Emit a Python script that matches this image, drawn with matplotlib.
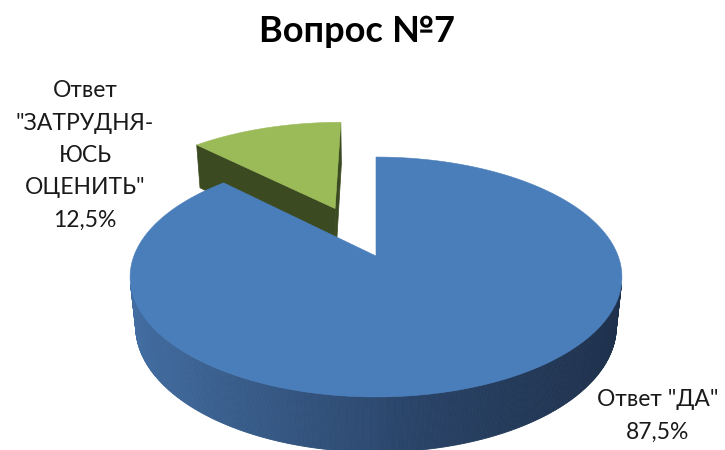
import numpy as np
import matplotlib
matplotlib.use('Agg')
import matplotlib.pyplot as plt
from matplotlib.patches import Polygon
import matplotlib.colors as mcolors

plt.rcParams['font.family'] = ['Lato', 'DejaVu Sans']

# ---- data ----
title = 'Вопрос №7'
categories = ['Ответ "ДА"', 'Ответ\n"ЗАТРУДНЯ-\nЮСЬ\nОЦЕНИТЬ"']
values = [87.5, 12.5]
top_colors = ['#4a7ebb', '#9bbb59']
cut_colors = ['#2c466c', '#3c4a22']
explode = [0.0, 0.476]
start_angle = 135.0

# ---- 3D projection of a pie (perspective camera) ----
phi = np.radians(28.7)
S, C = np.sin(phi), np.cos(phi)
D, F = 5.01, 1213.0
CX, CY = 376.0, 256.0
H = 0.235


def proj(X, Y, Z):
    X, Y, Z = np.asarray(X, float), np.asarray(Y, float), np.asarray(Z, float)
    u = X
    v = Y * S + Z * C
    w = Y * C - Z * S
    return CX + F * u / (D + w), CY - F * v / (D + w)


fig = plt.figure(figsize=(7.25, 4.5), dpi=100)
ax = fig.add_axes([0, 0, 1, 1])
ax.set_xlim(0, 725)
ax.set_ylim(450, 0)
ax.axis('off')

total = sum(values)
spans = []
a = start_angle
for v in values:
    da = 360.0 * v / total
    spans.append((a, a + da))
    a += da


def slice_geom(i):
    a0, a1 = spans[i]
    mid = np.radians((a0 + a1) / 2)
    ox, oy = explode[i] * np.cos(mid), explode[i] * np.sin(mid)
    return np.radians(a0), np.radians(a1), ox, oy


CAMX, CAMY = 0.0, -D * C


def draw_slice(i, zorder):
    t0, t1, ox, oy = slice_geom(i)
    # radial cut faces
    for t, sign in ((t0, -1), (t1, 1)):
        nx, ny = -sign * np.sin(t), sign * np.cos(t)  # outward normal of face
        px, py = ox + 0.5 * np.cos(t), oy + 0.5 * np.sin(t)
        if nx * (CAMX - px) + ny * (CAMY - py) > 0:
            X = [ox, ox + np.cos(t), ox + np.cos(t), ox]
            Y = [oy, oy + np.sin(t), oy + np.sin(t), oy]
            Z = [0, 0, -H, -H]
            xs, ys = proj(X, Y, Z)
            ax.add_patch(Polygon(np.c_[xs, ys], closed=True, fc=cut_colors[i],
                                 ec=cut_colors[i], lw=0.5, zorder=zorder))
    # outer rim side (visible part only), shaded
    tt = np.linspace(t0, t1, 600)
    vis = (np.cos(tt) * (CAMX - ox - np.cos(tt))
           + np.sin(tt) * (CAMY - oy - np.sin(tt))) > 0
    if vis.any():
        tv = tt[vis]
        light = np.array(mcolors.to_rgb('#4470a5'))
        mid = np.array(mcolors.to_rgb('#2d4a71'))
        dark = np.array(mcolors.to_rgb('#1e304b'))
        for k in range(len(tv) - 1):
            ta, tb = tv[k], tv[k + 1]
            X = [ox + np.cos(ta), ox + np.cos(tb), ox + np.cos(tb), ox + np.cos(ta)]
            Y = [oy + np.sin(ta), oy + np.sin(tb), oy + np.sin(tb), oy + np.sin(ta)]
            Z = [0, 0, -H, -H]
            xs, ys = proj(X, Y, Z)
            f = np.clip((np.cos((ta + tb) / 2) + 1) / 2, 0, 1)
            if f < 0.5:
                col = light + (mid - light) * (f / 0.5)
            else:
                col = mid + (dark - mid) * ((f - 0.5) / 0.5) ** 0.7
            ax.add_patch(Polygon(np.c_[xs, ys], closed=True, fc=col, ec=col,
                                 lw=0.6, zorder=zorder + 1))
    # top face
    tt = np.linspace(t0, t1, 400)
    X = np.r_[ox, ox + np.cos(tt)]
    Y = np.r_[oy, oy + np.sin(tt)]
    xs, ys = proj(X, Y, np.zeros_like(X))
    ax.add_patch(Polygon(np.c_[xs, ys], closed=True, fc=top_colors[i],
                         ec=top_colors[i], lw=0.4, zorder=zorder + 2))


# back slice first, then front slice
draw_slice(1, 1)
draw_slice(0, 5)

ax.text(357, 42, title, ha='center', va='baseline', fontsize=26,
        fontweight='bold', color='black')

pct = [f'{v:.1f}'.replace('.', ',') + '%' for v in values]


def label(lines, x, y0, step=32.5):
    for k, line in enumerate(lines):
        ax.text(x, y0 + k * step, line, ha='center', va='baseline',
                fontsize=16.5, color='#1a1a1a', zorder=10)


label(categories[0].split('\n') + [pct[0]], 658, 406)
label(categories[1].split('\n') + [pct[1]], 85, 97)

fig.savefig('out.png', dpi=100)
